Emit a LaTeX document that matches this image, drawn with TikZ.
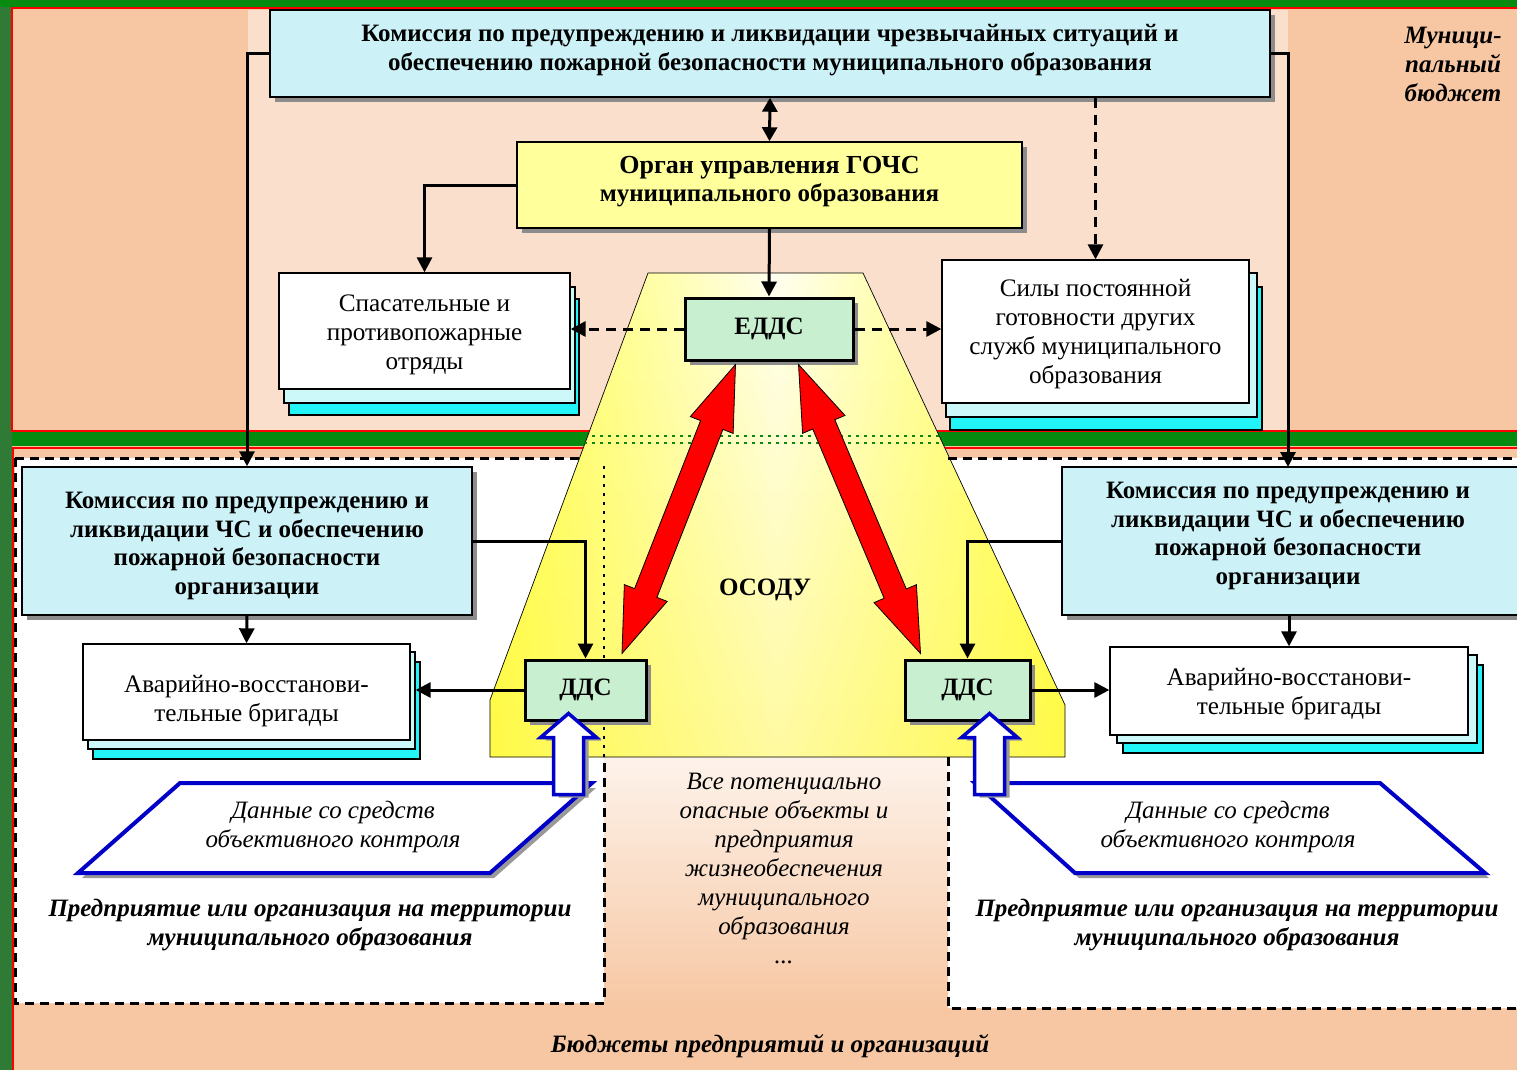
\documentclass[tikz,border=0pt]{standalone}
\usepackage{fontspec}
\setmainfont{Liberation Serif}
\usetikzlibrary{arrows.meta,shadows,calc,fadings}
\definecolor{peach}{HTML}{F7C7A3}
\definecolor{peachlt}{HTML}{FAE0CC}
\definecolor{bandgreen}{HTML}{078A10}
\definecolor{stripgreen}{HTML}{2F7A34}
\definecolor{boxcyan}{HTML}{CCF2F8}
\definecolor{boxyellow}{HTML}{FFFF9C}
\definecolor{boxgreen}{HTML}{C8EFD0}
\definecolor{layercyan}{HTML}{22F4F8}
\definecolor{layerlt}{HTML}{CDF8FA}
\definecolor{pblue}{HTML}{0000C8}
\begin{document}
\begin{tikzpicture}[x=1pt,y=-1pt,
  rtxt/.style={font=\fontsize{25.2}{28.8}\selectfont, align=center, inner sep=0pt},
  btxt/.style={font=\fontsize{25}{28.8}\selectfont\bfseries, align=center, inner sep=0pt},
  itxt/.style={font=\fontsize{25}{29}\selectfont\itshape, align=center, inner sep=0pt},
  bitxt/.style={font=\fontsize{25}{29}\selectfont\bfseries\itshape, align=center, inner sep=0pt},
  shbox/.style={draw=black, line width=1.5pt, inner sep=0pt, drop shadow={shadow xshift=5pt, shadow yshift=-5pt, fill=black!45, opacity=1}},
  pbox/.style={draw=black, line width=1.3pt, fill=white, inner sep=0pt},
  layer/.style={draw=black, line width=1.3pt},
  conn/.style={line width=3pt, -{Triangle[length=15pt,width=15pt]}},
  dconn/.style={conn, dash pattern=on 10pt off 7pt},
  dblconn/.style={line width=3pt, {Triangle[length=14pt,width=15pt]}-{Triangle[length=14pt,width=15pt]}},
  border/.style={line width=3pt, dash pattern=on 9pt off 6pt},
  redarrow/.style={fill=red, draw=black, line width=0.8pt},
  bluearrow/.style={fill=white, draw=pblue, line width=3.5pt, line join=miter},
  para/.style={fill=white, draw=pblue, line width=4pt, line join=miter},
]
\useasboundingbox (0,0) rectangle (1517,1070);
% ---------- backgrounds
\fill[peach] (0,0) rectangle (1517,1070);
\fill[stripgreen] (0,0) rectangle (12,1070);
\fill[bandgreen] (0,0) rectangle (1517,7);
\fill[peach] (12,8) rectangle (1517,431);
\fill[peachlt] (248,10) rectangle (1288,430);
\draw[red, line width=2pt] (1517,8) -- (12,8) -- (12,431) -- (1517,431);
\fill[bandgreen] (12,432) rectangle (1517,446);
\draw[red, line width=2pt] (1517,448) -- (13,448) -- (13,1070);
% lower white region
\fill[white] (15,458) -- (1517,458) -- (1517,1008) -- (948,1008) -- (948,757) -- (604,757) -- (604,1003) -- (15,1003) -- cycle;
\shade[top color=peachlt!40!white, bottom color=peach] (604,757) rectangle (948,1008);
% ---------- OSODU trapezoid
\shade[left color=yellow!70!white, right color=yellow!70!white, middle color=yellow!6!white]
  (648,273) -- (863,273) -- (1065,705) -- (1065,757) -- (490,757) -- (490,700) -- cycle;
\fill[yellow!75!white, path fading=north, opacity=0.45]
  (648,273) -- (863,273) -- (1065,705) -- (1065,757) -- (490,757) -- (490,700) -- cycle;
\draw[black, line width=0.7pt] (648,273) -- (863,273) -- (1065,705) -- (1065,757) -- (490,757) -- (490,700) -- cycle;
\begin{scope}
  \clip (648,273) -- (863,273) -- (1065,705) -- (1065,757) -- (490,757) -- (490,700) -- cycle;
  \draw[bandgreen, line width=2.5pt, dash pattern=on 3pt off 5pt] (480,436) -- (1070,436);
  \draw[bandgreen, line width=2.5pt, dash pattern=on 3pt off 5pt] (480,443) -- (1070,443);
\end{scope}
\node[btxt] (osodu) at (765,590) {ОСОДУ};
% ---------- dashed borders
\draw[border] (15,458) -- (584,458);
\draw[border] (948,458) -- (1517,458);
\draw[border] (15,458) -- (15,1003) -- (604,1003) -- (604,757);
\draw[line width=2.5pt, dash pattern=on 3pt off 6pt] (604,757) -- (604,462);
\draw[border] (948,757) -- (948,1008) -- (1517,1008);
% ---------- top level boxes
\node[shbox, fill=boxcyan, minimum width=1000pt, minimum height=87pt] (top) at (770,53.5) {};
\node[btxt] at ($(top.center)+(0,-3.5)$) {Комиссия по предупреждению и ликвидации чрезвычайных ситуаций и\\обеспечению пожарной безопасности муниципального образования};
\node[shbox, fill=boxyellow, minimum width=505pt, minimum height=86pt] (gochs) at (769.5,185) {};
\node[btxt] at ($(gochs.center)+(0,-3.5)$) {\fontsize{26}{28.8}\selectfont Орган управления ГОЧС\\муниципального образования};
\node[shbox, fill=boxgreen, line width=3pt, minimum width=168pt, minimum height=62pt, btxt] (edds) at (769,329) {ЕДДС};
% rescue squads (stacked)
\draw[layer, fill=layercyan] (289,299) rectangle (579,415);
\draw[layer, fill=layerlt] (284,287) rectangle (575,403);
\node[pbox, minimum width=291pt, minimum height=116pt] (spas) at (424.5,331) {};
\node[rtxt] at ($(spas.center)+(0,4)$) {Спасательные и\\противопожарные\\отряды};
% other services (stacked)
\draw[layer, fill=layercyan] (950,287) rectangle (1262,430);
\draw[layer, fill=layerlt] (946,273) rectangle (1257,417);
\node[pbox, minimum width=307pt, minimum height=143pt] (sily) at (1095.5,331.5) {};
\node[rtxt] at ($(sily.center)+(0,2.5)$) {Силы постоянной\\готовности других\\служб муниципального\\образования};
% ---------- lower boxes
\node[shbox, fill=boxcyan, minimum width=450pt, minimum height=148pt] (lkom) at (247,541) {};
\node[btxt] at ($(lkom.center)+(0,5)$) {Комиссия по предупреждению и\\ликвидации ЧС и обеспечению\\пожарной безопасности\\организации};
\node[shbox, fill=boxcyan, minimum width=460pt, minimum height=148pt] (rkom) at (1292,541) {};
\node[btxt] at (1288,536) {Комиссия по предупреждению и\\ликвидации ЧС и обеспечению\\пожарной безопасности\\организации};
\draw[layer, fill=layercyan] (93,662) rectangle (420,759);
\draw[layer, fill=layerlt] (88,652) rectangle (415,749);
\node[pbox, minimum width=327pt, minimum height=96pt] (lav) at (246.5,692) {};
\node[rtxt] at ($(lav.center)+(0,9)$) {Аварийно-восстанови-\\тельные бригады};
\draw[layer, fill=layercyan] (1123,665) rectangle (1483,753);
\draw[layer, fill=layerlt] (1117,655) rectangle (1477,743);
\node[pbox, minimum width=358pt, minimum height=88pt] (rav) at (1289,691) {};
\node[rtxt] at ($(rav.center)+(0,3)$) {Аварийно-восстанови-\\тельные бригады};
\node[shbox, fill=boxgreen, line width=3pt, minimum width=121pt, minimum height=60pt, btxt] (ldds) at (585.5,690) {ДДС};
\node[shbox, fill=boxgreen, line width=3pt, minimum width=125pt, minimum height=60pt, btxt] (rdds) at (967.5,690) {ДДС};
% ---------- connectors
\draw[dblconn] (top.south) -- (gochs.north);
\draw[conn] (gochs.south) -- (edds.north);
\draw[conn] (gochs.west) -| (spas.north);
\draw[dconn] (top.south -| sily.north) -- (sily.north);
\draw[dconn] (edds.west) -- (edds.west -| spas.east);
\draw[dconn] (edds.east) -- (edds.east -| sily.west);
\draw[conn] (top.west) -| (lkom.north);
\draw[conn] (top.east) -| (1288,467);
\draw[conn] (lkom.south) -- (lav.north);
\draw[conn] (rkom.south -| rav.north) -- (rav.north);
\draw[conn] (lkom.east) -| (ldds.north);
\draw[conn] (rkom.west) -| (rdds.north);
\draw[conn] (ldds.west) -- ($(ldds.west -| lav.east)+(5,0)$);
\draw[conn] (rdds.east) -- (rdds.east -| rav.west);
% ---------- red double block arrows
\coordinate (ra) at ($(edds.south west)+(52,3)$);
\coordinate (rb) at ($(ldds.north)+(36.5,-5)$);
\coordinate (sa) at ($(edds.south east)+(-56,3)$);
\coordinate (sb) at ($(rdds.north)+(-47,-5)$);
\foreach \A/\B in {ra/rb, sa/sb}{
  \path ($(\A)!65pt!(\B)$) coordinate (h1) ($(\B)!65pt!(\A)$) coordinate (h2);
  \draw[redarrow] (\A) -- ($(h1)!23pt!90:(\B)$) -- ($(h1)!12pt!90:(\B)$) -- ($(h2)!12pt!-90:(\A)$) -- ($(h2)!23pt!-90:(\A)$) -- (\B)
    -- ($(h2)!23pt!90:(\A)$) -- ($(h2)!12pt!90:(\A)$) -- ($(h1)!12pt!-90:(\B)$) -- ($(h1)!23pt!-90:(\B)$) -- cycle;
}
% ---------- parallelograms (data from objective control)
\fill[black!40] (184,788) -- (596,788) -- (494,878) -- (82,878) -- cycle;
\draw[para] (180,783) -- (592,783) -- (490,873) -- (78,873) -- cycle;
\node[itxt] (ldata) at (333,827) {Данные со средств\\объективного контроля};
\fill[black!40] (979,788) -- (1384,788) -- (1489,878) -- (1079,878) -- cycle;
\draw[para] (975,783) -- (1380,783) -- (1485,873) -- (1075,873) -- cycle;
\node[itxt] (rdata) at (1228,827) {Данные со средств\\объективного контроля};
% ---------- blue hollow arrows
\coordinate (lt) at ($(ldds.south)+(-17,-8)$);
\coordinate (rt) at ($(rdds.south)+(22,-8)$);
\foreach \T in {lt, rt}{
  \fill[black!40] ($(\T)+(5,3)$) -- ++(28,24) -- ++(-13,0) -- ++(0,57) -- ++(-30,0) -- ++(0,-57) -- ++(-13,0) -- cycle;
  \draw[bluearrow] (\T) -- ++(28,24) -- ++(-13,0) -- ++(0,57) -- ++(-30,0) -- ++(0,-57) -- ++(-13,0) -- cycle;
}
% ---------- free texts
\node[bitxt] (lent) at (310,925) {Предприятие или организация на территории\\муниципального образования};
\node[bitxt] (rent) at (1237,925) {Предприятие или организация на территории\\муниципального образования};
\node[itxt] (allobj) at (784,868) {Все потенциально\\опасные объекты и\\предприятия\\жизнеобеспечения\\муниципального\\образования\\...};
\node[bitxt] (munb) at (1453,64) {Муници-\\пальный\\бюджет};
\node[bitxt] (entb) at (770,1046) {Бюджеты предприятий и организаций};
\end{tikzpicture}
\end{document}
